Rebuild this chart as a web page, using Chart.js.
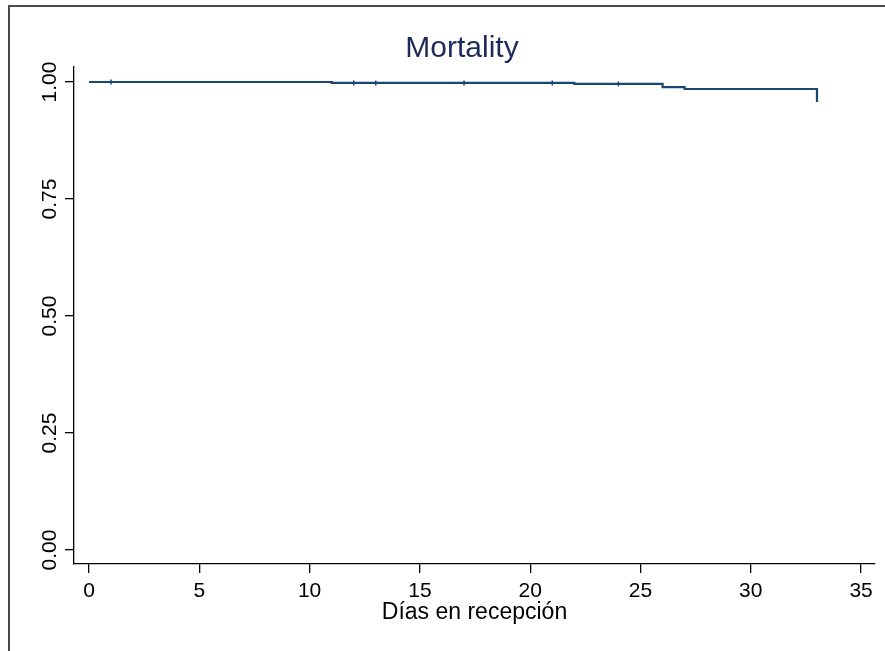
<!DOCTYPE html>
<html>
<head>
<meta charset="utf-8">
<title>Mortality</title>
<script src="https://cdn.jsdelivr.net/npm/chart.js@4/dist/chart.umd.min.js"></script>
<style>
  html, body { margin: 0; padding: 0; background: #fff; }
  #wrap { position: relative; width: 885px; height: 651px; overflow: hidden; }
  #frame { position: absolute; left: 8px; top: 5px; width: 900px; height: 700px;
           border-left: 2px solid #4a4a4a; border-top: 2px solid #4a4a4a; pointer-events: none; }
</style>
</head>
<body>
<div id="wrap">
  <canvas id="km" width="885" height="651"></canvas>
  <div id="frame"></div>
</div>
<script>
// Kaplan-Meier: dias con evento y supervivencia despues de cada uno
const eventDays = [0, 11, 22, 26, 27, 33];
const survival  = [1.000, 0.998, 0.996, 0.989, 0.985, 0.957];
// dias con censura (marcas pequeñas sobre la curva)
const censorDays = [1, 12, 13, 17, 21, 24];

const xTicks = [0, 5, 10, 15, 20, 25, 30, 35];
const yTicks = [0, 0.25, 0.5, 0.75, 1];

const FONT = '"Liberation Sans", Arial, Helvetica, sans-serif';
const lineColor = '#1a476f';

// supervivencia en un dia dado (valor del escalon vigente)
function survAt(d) {
    let s = survival[0];
    eventDays.forEach((t, i) => { if (t <= d) s = survival[i]; });
    return s;
}

const curve = eventDays.map((t, i) => ({x: t, y: survival[i]}));
const censored = censorDays.map(d => ({x: d, y: survAt(d)}));

// etiquetas del eje y giradas 90 grados (como en Stata)
const rotatedYLabels = {
    id: 'rotatedYLabels',
    afterDraw(chart) {
        const sc = chart.scales.y;
        const ctx = chart.ctx;
        ctx.save();
        ctx.fillStyle = '#000';
        ctx.font = '21px ' + FONT;
        ctx.textAlign = 'center';
        ctx.textBaseline = 'middle';
        yTicks.forEach(v => {
            const py = sc.getPixelForValue(v);
            ctx.save();
            ctx.translate(sc.right - 9 - 16, py);
            ctx.rotate(-Math.PI / 2);
            ctx.fillText(v.toFixed(2), 0, 1);
            ctx.restore();
        });
        ctx.restore();
    }
};

new Chart(document.getElementById('km'), {
    type: 'line',
    data: {
        datasets: [
            {
                data: curve,
                stepped: true,
                borderColor: lineColor,
                borderWidth: 2.2,
                pointRadius: 0,
                fill: false
            },
            {
                type: 'scatter',
                data: censored,
                pointStyle: 'line',
                rotation: 90,
                pointRadius: 2.5,
                borderColor: lineColor,
                borderWidth: 1.5,
                showLine: false
            }
        ]
    },
    options: {
        responsive: false,
        animation: false,
        layout: {padding: {left: 49, right: 10, top: 31, bottom: 27}},
        plugins: {
            legend: {display: false},
            tooltip: {enabled: false},
            title: {
                display: true,
                text: 'Mortality',
                color: '#1c2b5a',
                font: {family: FONT, size: 30, weight: 'normal', lineHeight: 1.2},
                padding: {top: 0, bottom: 0}
            }
        },
        scales: {
            x: {
                type: 'linear',
                min: -0.68,
                max: 35.63,
                afterBuildTicks: s => { s.ticks = xTicks.map(v => ({value: v})); },
                ticks: {
                    color: '#000',
                    padding: 8,
                    maxRotation: 0,
                    font: {family: FONT, size: 21, lineHeight: 1},
                    callback: v => String(v)
                },
                grid: {display: true, drawOnChartArea: false, drawTicks: true, tickLength: 9, color: '#000', lineWidth: 1.3},
                border: {display: true, color: '#000', width: 1.3},
                title: {
                    display: true,
                    text: 'Días en recepción',
                    color: '#000',
                    font: {family: FONT, size: 23, lineHeight: 1},
                    padding: {top: -9, bottom: 0}
                }
            },
            y: {
                type: 'linear',
                min: -0.03,
                max: 1.032,
                afterBuildTicks: s => { s.ticks = yTicks.map(v => ({value: v})); },
                afterFit: s => { s.width = 25; },
                ticks: {display: false},
                grid: {display: true, drawOnChartArea: false, drawTicks: true, tickLength: 9, color: '#000', lineWidth: 1.3},
                border: {display: true, color: '#000', width: 1.3}
            }
        }
    },
    plugins: [rotatedYLabels]
});
</script>
</body>
</html>
